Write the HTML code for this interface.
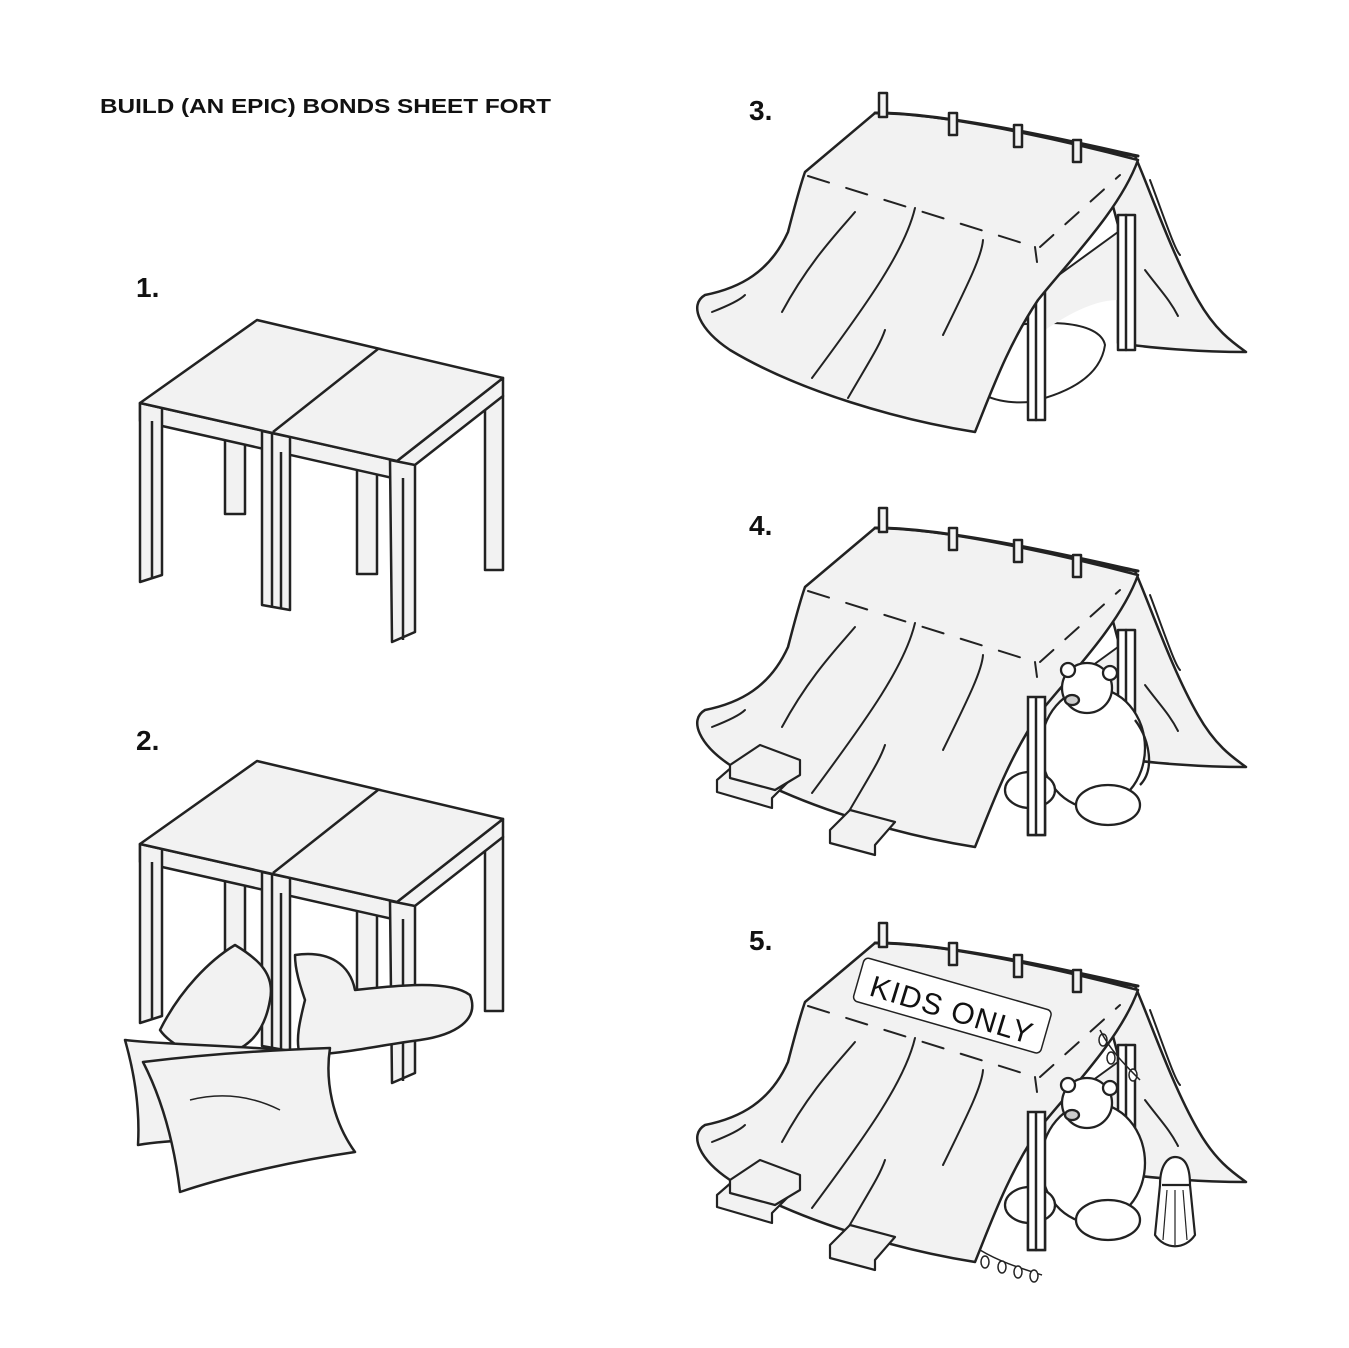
<!DOCTYPE html>
<html><head><meta charset="utf-8"><style>
html,body{margin:0;padding:0;background:#fff;}
svg{display:block;}
text{font-family:"Liberation Sans",sans-serif;fill:#111;}
</style></head><body>
<svg width="1349" height="1348" viewBox="0 0 1349 1348" xmlns="http://www.w3.org/2000/svg">
<defs>
<g id="table" stroke="#222" stroke-width="2.5" stroke-linejoin="round" fill="#f2f2f2">
  <rect x="225" y="430" width="20" height="84"/>
  <rect x="357" y="460" width="20" height="114"/>
  <rect x="485" y="396" width="18" height="174"/>
  <polygon points="140,403 397,461 397,479 140,421"/>
  <polygon points="397,461 503,378 503,396 397,479"/>
  <polygon points="140,403 162,408 162,575 140,582"/>
  <polygon points="262,431 290,437 290,610 262,605"/>
  <polygon points="390,460 415,465 415,632 392,642 390,460" />
  <polygon points="140,403 257,320 503,378 397,461"/>
  <line x1="273" y1="432" x2="378" y2="349"/>
  <line x1="272" y1="433" x2="272" y2="608"/>
  <line x1="152" y1="421" x2="152" y2="578"/>
  <line x1="403" y1="478" x2="403" y2="640"/>
  <line x1="281" y1="452" x2="281" y2="608"/>
</g>
<g id="tent" stroke="#222" stroke-width="2.5" stroke-linejoin="round" stroke-linecap="round">
  <path d="M1098,150 L1135,156 C1150,190 1172,255 1198,300 C1215,330 1232,342 1246,352 C1200,352 1150,348 1118,343 L1118,225 Z" fill="#f2f2f2"/>
  <path d="M1045,285 L1118,232 L1118,300 C1090,300 1060,320 1045,330 Z" fill="#f2f2f2" stroke="none"/>
  <line x1="1045" y1="285" x2="1118" y2="232" stroke-width="2"/>
  <rect x="1118" y="215" width="17" height="135" fill="#fff"/>
  <line x1="1126" y1="215" x2="1126" y2="350"/>
  <rect x="1028" y="282" width="17" height="138" fill="#fff"/>
  <line x1="1036" y1="282" x2="1036" y2="420"/>
  <path d="M805,172 L875,113 C950,112 1100,150 1138,160 C1120,210 1068,262 1038,300 C1008,345 992,390 975,432 C900,420 800,392 730,350 C700,330 688,305 705,295 C740,288 770,272 788,232 C795,205 800,186 805,172 Z" fill="#f2f2f2"/>
  <path d="M875,113 C950,112 1100,148 1138,156" fill="none" stroke-width="3"/>
  <g fill="#f2f2f2">
    <rect x="879" y="93" width="8" height="24"/>
    <rect x="949" y="113" width="8" height="22"/>
    <rect x="1014" y="125" width="8" height="22"/>
    <rect x="1073" y="140" width="8" height="22"/>
  </g>
  <g fill="none" stroke-width="2">
    <path d="M808,176 L1035,247" stroke-dasharray="22,18"/>
    <path d="M1040,247 L1120,175" stroke-dasharray="18,16"/>
    <line x1="1035" y1="247" x2="1037" y2="262"/>
    <path d="M782,312 C810,260 840,230 855,212"/>
    <path d="M812,378 C870,300 905,250 915,208"/>
    <path d="M943,335 C970,280 982,255 983,240"/>
    <path d="M848,398 C870,360 880,345 885,330"/>
    <path d="M712,312 C730,305 740,300 745,295"/>
    <path d="M1145,270 C1160,290 1170,300 1178,316"/>
    <path d="M1150,180 C1165,220 1175,250 1180,255"/>
  </g>
</g>
</defs>

<text x="100" y="113" font-size="20" font-weight="bold" textLength="451" lengthAdjust="spacingAndGlyphs">BUILD (AN EPIC) BONDS SHEET FORT</text>
<text x="136" y="297" font-size="28" font-weight="bold">1.</text>
<text x="136" y="750" font-size="28" font-weight="bold">2.</text>
<text x="749" y="120" font-size="28" font-weight="bold">3.</text>
<text x="749" y="535" font-size="28" font-weight="bold">4.</text>
<text x="749" y="950" font-size="28" font-weight="bold">5.</text>

<use href="#table"/>
<g transform="translate(0,441)">
  <use href="#table"/>
</g>
<g stroke="#222" stroke-width="2.5" fill="#f2f2f2" stroke-linejoin="round">
  <path d="M160,1030 C180,990 210,960 235,945 C260,960 275,975 270,1000 C265,1030 250,1050 220,1055 C200,1060 170,1045 160,1030 Z"/>
  <path d="M295,955 C330,950 350,965 355,990 C400,985 450,980 470,995 C480,1020 455,1035 420,1040 C380,1045 340,1055 300,1055 C295,1040 300,1020 305,1000 C300,985 295,970 295,955 Z"/>
  <path d="M125,1040 C170,1045 230,1045 280,1050 C272,1080 270,1110 275,1140 C230,1140 180,1138 138,1145 C140,1110 135,1075 125,1040 Z"/>
  <path d="M143,1062 C200,1055 270,1050 330,1048 C325,1080 332,1120 355,1152 C300,1160 230,1175 180,1192 C175,1150 165,1105 143,1062 Z"/>
  <path d="M190,1100 C230,1090 260,1100 280,1110" fill="none" stroke-width="1.5"/>
</g>

<path d="M990,330 C1040,318 1100,320 1105,345 C1100,380 1060,395 1030,402 C1005,404 990,398 985,395 Z" fill="#fff" stroke="#222" stroke-width="2"/>
<use href="#tent"/>

<g transform="translate(0,415)"><use href="#tent"/></g>
<g stroke="#222" stroke-width="2.3" fill="#fff" stroke-linejoin="round">
  <ellipse cx="1093" cy="748" rx="52" ry="60"/>
  <ellipse cx="1030" cy="790" rx="25" ry="18"/>
  <ellipse cx="1108" cy="805" rx="32" ry="20"/>
  <circle cx="1087" cy="688" r="25"/>
  <circle cx="1068" cy="670" r="7"/><circle cx="1110" cy="673" r="7"/>
  <ellipse cx="1072" cy="700" rx="7" ry="5" fill="#ccc"/>
  <path d="M1135,720 C1150,740 1155,770 1140,785" fill="none"/>
</g>
<g transform="translate(0,415)"><rect x="1028" y="282" width="17" height="138" fill="#fff" stroke="#222" stroke-width="2.5"/><line x1="1036" y1="282" x2="1036" y2="420" stroke="#222" stroke-width="2.5"/></g>
<g stroke="#222" stroke-width="2.2" fill="#f2f2f2" stroke-linejoin="round">
  <polygon points="717,780 740,760 795,775 772,798 772,808 717,792"/>
  <polygon points="730,765 760,745 800,760 800,775 775,790 730,778"/>
  <polygon points="830,830 850,810 895,822 875,845 875,855 830,843"/>
</g>

<g transform="translate(0,830)"><use href="#tent"/></g>
<g stroke="#222" stroke-width="2.3" fill="#fff" stroke-linejoin="round">
  <ellipse cx="1093" cy="1163" rx="52" ry="60"/>
  <ellipse cx="1030" cy="1205" rx="25" ry="18"/>
  <ellipse cx="1108" cy="1220" rx="32" ry="20"/>
  <circle cx="1087" cy="1103" r="25"/>
  <circle cx="1068" cy="1085" r="7"/><circle cx="1110" cy="1088" r="7"/>
  <ellipse cx="1072" cy="1115" rx="7" ry="5" fill="#ccc"/>
</g>
<g transform="translate(0,830)"><rect x="1028" y="282" width="17" height="138" fill="#fff" stroke="#222" stroke-width="2.5"/><line x1="1036" y1="282" x2="1036" y2="420" stroke="#222" stroke-width="2.5"/></g>
<g stroke="#222" stroke-width="2.2" fill="#f2f2f2" stroke-linejoin="round">
  <polygon points="717,1195 740,1175 795,1190 772,1213 772,1223 717,1207"/>
  <polygon points="730,1180 760,1160 800,1175 800,1190 775,1205 730,1193"/>
  <polygon points="830,1245 850,1225 895,1237 875,1260 875,1270 830,1258"/>
  <path d="M1160,1185 C1160,1165 1168,1157 1175,1157 C1184,1157 1190,1165 1190,1185 L1195,1235 C1185,1250 1165,1250 1155,1235 Z" fill="#fff"/>
  <line x1="1162" y1="1185" x2="1190" y2="1185"/>
  <g stroke-width="1.2"><line x1="1167" y1="1190" x2="1163" y2="1240"/><line x1="1175" y1="1190" x2="1175" y2="1245"/><line x1="1183" y1="1190" x2="1187" y2="1240"/></g>
  <g transform="rotate(16 952 1005)"><rect x="855" y="983" width="195" height="45" rx="5" fill="#fff" stroke-width="1.5"/></g>
  <path d="M980,1250 C1000,1262 1020,1268 1042,1275" fill="none" stroke-width="1.5"/>
  <g fill="#fff" stroke-width="1.5"><ellipse cx="985" cy="1262" rx="4" ry="6"/><ellipse cx="1002" cy="1267" rx="4" ry="6"/><ellipse cx="1018" cy="1272" rx="4" ry="6"/><ellipse cx="1034" cy="1276" rx="4" ry="6"/>
  <ellipse cx="1103" cy="1040" rx="4" ry="6"/><ellipse cx="1111" cy="1058" rx="4" ry="6"/><ellipse cx="1133" cy="1075" rx="4" ry="6"/></g>
  <path d="M1100,1030 C1110,1050 1125,1065 1140,1080" fill="none" stroke-width="1.5"/>
</g>
<text x="0" y="0" font-size="30" transform="translate(868,995) rotate(17)" textLength="168">KIDS ONLY</text>
</svg>
</body></html>
